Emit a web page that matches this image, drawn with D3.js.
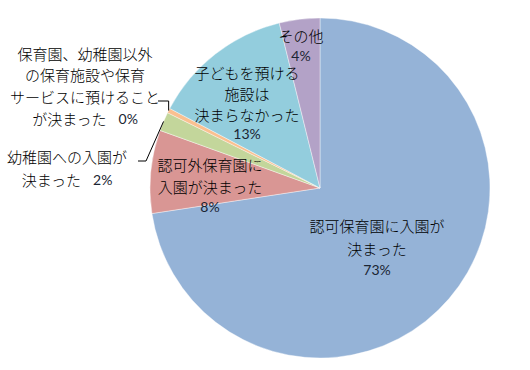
<!DOCTYPE html>
<html><head><meta charset="utf-8">
<script src="https://cdn.jsdelivr.net/npm/d3@7"></script>
<style>body{margin:0;background:#fff}</style>
</head><body>
<svg id="c" width="530" height="370"></svg>
<script>
const categories = ["認可保育園に入園が決まった","認可外保育園に入園が決まった","幼稚園への入園が決まった","保育園、幼稚園以外の保育施設や保育サービスに預けることが決まった","子どもを預ける施設は決まらなかった","その他"];
const values = [72.6, 7.9, 1.8, 0.45, 13.4, 3.85];
const colors = ["#95B3D7","#D99694","#C3D69B","#FAC090","#93CDDD","#B3A2C7"];
// label line breaks (text)
const labelLines = [
  ["認可保育園に入園が","決まった"],
  ["認可外保育園に","入園が決まった"],
  ["幼稚園への入園が","決まった"],
  ["保育園、幼稚園以外","の保育施設や保育","サービスに預けること","が決まった"],
  ["子どもを預ける","施設は","決まらなかった"],
  ["その他"]
];

const svg = d3.select("#c");
const cx = 320, cy = 188, R = 170;
const g = svg.append("g").attr("transform", `translate(${cx},${cy})`);
const pie = d3.pie().sort(null).value(d => d).startAngle(0).endAngle(2*Math.PI);
const arcs = pie(values);
const arc = d3.arc().innerRadius(0).outerRadius(R);
g.selectAll("path").data(arcs).join("path")
  .attr("d", arc).attr("fill", (d,i) => colors[i])
  .attr("stroke", "#fff").attr("stroke-width", 0.4);

const pct = v => Math.round(v) + "%";
const jp = "'Noto Sans CJK JP', sans-serif";
const numFont = "Lato, 'Liberation Sans', sans-serif";
const jpWeight = 300;

// layout: label anchor centers and line spacing
const layout = [
  {x: 377, y: 225, dy: 23, pctInline: false},
  {x: 210, y: 164, dy: 22, pctInline: false},
  {x: 67, y: 156, dy: 23, pctInline: true},
  {x: 85, y: 53, dy: 21.7, pctInline: true},
  {x: 247, y: 72, dy: 21, pctInline: false},
  {x: 301, y: 35, dy: 22, pctInline: false}
];

layout.forEach((L, i) => {
  const lines = labelLines[i];
  const t = svg.append("g");
  lines.forEach((ln, j) => {
    const last = j === lines.length - 1;
    if (last && L.pctInline) {
      const tx = t.append("text").attr("y", L.y + j*L.dy).attr("dominant-baseline","central")
        .attr("font-size", 15).attr("fill", "#000");
      tx.append("tspan").attr("font-family", jp).attr("font-weight", jpWeight).text(ln);
      tx.append("tspan").attr("font-family", numFont).attr("font-size", 14).attr("dx", 12).attr("fill","#1b2533").text(pct(values[i]));
      tx.attr("x", L.x).attr("text-anchor","middle");
    } else {
      t.append("text").attr("x", L.x).attr("y", L.y + j*L.dy)
        .attr("text-anchor","middle").attr("dominant-baseline","central")
        .attr("font-family", jp).attr("font-weight", jpWeight).attr("font-size", 15).attr("fill","#000").text(ln);
    }
  });
  if (!L.pctInline) {
    t.append("text").attr("x", L.x).attr("y", L.y + lines.length*L.dy - 2)
      .attr("text-anchor","middle").attr("dominant-baseline","central")
      .attr("font-family", numFont).attr("font-size", 14).attr("fill","#1b2533").text(pct(values[i]));
  }
});

// leader lines for the two small slices
const edge = (a, r) => [cx + r*Math.sin(a), cy - r*Math.cos(a)];
const lineGen = d3.line();
{
  const a = (arcs[2].startAngle + arcs[2].endAngle)/2;
  const p0 = edge(a, R);
  svg.append("path").attr("d", lineGen([p0, [146, 161], [138, 161]]))
    .attr("fill","none").attr("stroke","#000").attr("stroke-width",1);
}
{
  const a = (arcs[3].startAngle + arcs[3].endAngle)/2;
  const p0 = edge(a, R);
  svg.append("path").attr("d", lineGen([p0, [p0[0], 101], [158, 101]]))
    .attr("fill","none").attr("stroke","#000").attr("stroke-width",1);
}
</script>
</body></html>
